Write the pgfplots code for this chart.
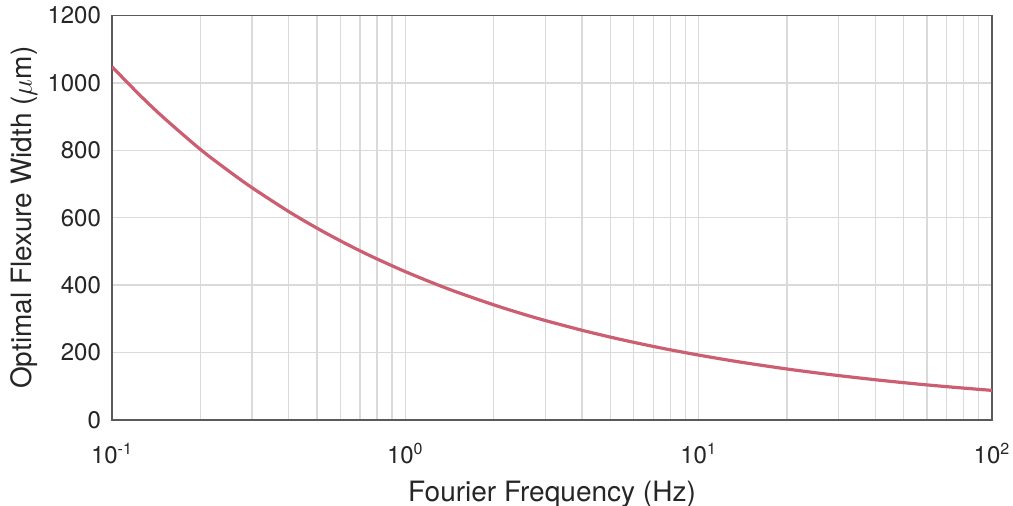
\documentclass[border=0pt]{standalone}
\usepackage{pgfplots}
\pgfplotsset{compat=1.18}
\usepackage{fontspec}
\setmainfont{TeX Gyre Heros}

\definecolor{curvered}{RGB}{204,94,114}
\definecolor{gridgray}{RGB}{218,218,218}
\definecolor{boxgray}{RGB}{90,90,90}
\definecolor{textgray}{RGB}{38,38,38}

\begin{document}
\begin{tikzpicture}
\begin{axis}[
  name=main,
  scale only axis,
  width=440pt, height=202.25pt,
  xmode=log, log basis x=10,
  xmin=0.1, xmax=100,
  ymin=0, ymax=1200,
  xtick={0.1,1,10,100},
  xticklabels={10\textsuperscript{-1},10\textsuperscript{0},10\textsuperscript{1},10\textsuperscript{2}},
  minor xtick={0.2,0.3,0.4,0.5,0.6,0.7,0.8,0.9,
               2,3,4,5,6,7,8,9,
               20,30,40,50,60,70,80,90},
  ytick={0,200,400,600,800,1000,1200},
  /pgf/number format/assume math mode=true,
  /pgf/number format/1000 sep={},
  xmajorgrids, xminorgrids, ymajorgrids,
  major grid style={draw=gridgray, line width=0.7pt},
  minor grid style={draw=gridgray, line width=0.7pt},
  major tick length=0pt, minor tick length=0pt,
  axis line style={draw=boxgray, line width=0.6pt},
  tick label style={font=\fontsize{12}{14}\selectfont, text=textgray},
  label style={font=\fontsize{14}{16}\selectfont, text=textgray},
  xlabel={Fourier Frequency (Hz)},
  ylabel={Optimal Flexure Width ($\mu$m)},
  yticklabel style={xshift=-2pt},
  xticklabel style={yshift=-8pt},
  xlabel style={yshift=-2pt},
  ylabel style={yshift=-2pt},
]
\addplot[curvered, line width=1.6pt, smooth] coordinates {
  (0.1,1048) (0.125,962.0) (0.15,896.9) (0.2,803.0) (0.25,738.6)
  (0.3,689.3) (0.4,618.6) (0.5,569.0) (0.6,531.7) (0.7,502.1)
  (0.8,477.9) (1,440.1) (1.25,405.5) (1.5,379.3) (2,341.7)
  (2.5,315.1) (3,295.1) (4,266.2) (5,245.9) (6,230.5)
  (7,218.3) (8,208.2) (10,192.6) (12.5,178.1) (15,167.2)
  (20,151.3) (25,140.2) (30,131.7) (40,119.4) (50,110.7)
  (60,104.1) (70,98.9) (80,94.6) (100,87.8)
};
\end{axis}
\pgfresetboundingbox
\useasboundingbox ([shift={(-56pt,-43pt)}]main.south west) rectangle ([shift={(10.5pt,7.75pt)}]main.north east);
\end{tikzpicture}
\end{document}
